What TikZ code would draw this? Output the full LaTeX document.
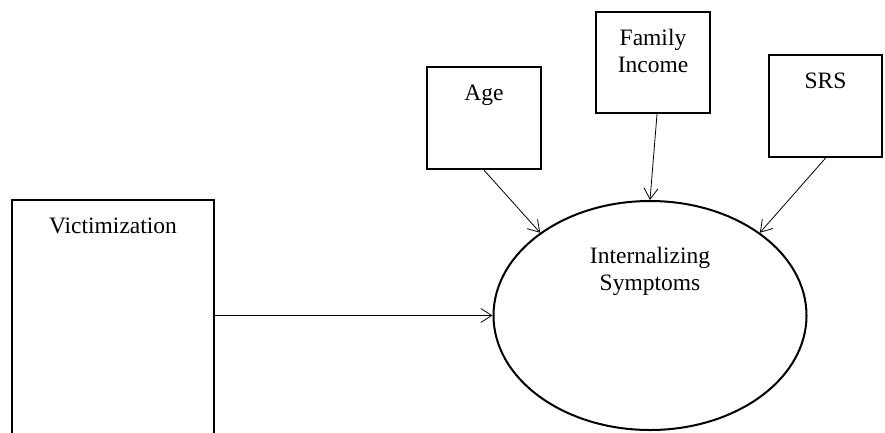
\documentclass[tikz,border=0pt]{standalone}
\usepackage{fontspec}
\setmainfont{Liberation Serif}
\usetikzlibrary{shapes.geometric,arrows.meta}
\begin{document}
\begin{tikzpicture}[x=1pt,y=-1pt,
    var/.style={draw, line width=2.3pt, rectangle, inner sep=0pt},
    latent/.style={draw, line width=2pt, ellipse, inner sep=0pt, minimum width=313pt, minimum height=229pt},
    vartext/.style={anchor=north, yshift=-18.5pt, inner sep=0pt, align=center, font=\fontsize{23.5}{27}\selectfont},
    effect/.style={-{Straight Barb[length=11pt,width=14pt]}, line width=0.8pt}]
        \useasboundingbox (0,0) rectangle (885,432);
        \clip (0,0) rectangle (885,432);
        \node[var, minimum width=202pt, minimum height=250pt, label={[vartext]north:Victimization}] (vic) at (113,325) {};
        \node[var, minimum width=114pt, minimum height=102pt, label={[vartext]north:Age}] (age) at (484,118) {};
        \node[var, minimum width=114pt, minimum height=101pt, label={[vartext]north:Family\\Income}] (inc) at (653,62.5) {};
        \node[var, minimum width=113pt, minimum height=102pt, label={[vartext]north:SRS}] (srs) at (825.5,106) {};
        \node[latent, label={[vartext, yshift=-28pt]north:Internalizing\\Symptoms}] (int) at (650,315.5) {};
        \draw[effect] (vic.east |- int.west) -- (int.west);
        \draw[effect] (age.south) -- (int.143);
        \draw[effect] ([xshift=4pt]inc.south) -- (int.north);
        \draw[effect] (srs.south) -- (int.37);
\end{tikzpicture}
\end{document}
